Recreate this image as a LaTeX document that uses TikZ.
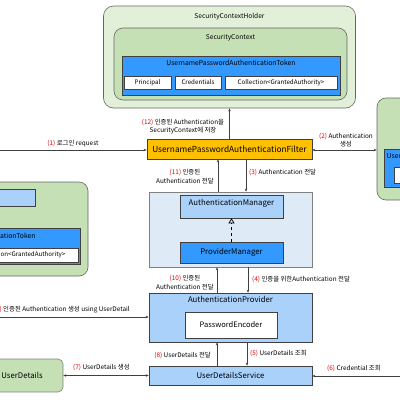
\documentclass[tikz,border=0pt]{standalone}
\usepackage{fontspec}
\setmainfont{Noto Sans CJK KR}
\usetikzlibrary{arrows.meta}
\definecolor{gOuter}{HTML}{E2F0D9}
\definecolor{gInner}{HTML}{C5E0B4}
\definecolor{bDark}{HTML}{3399FF}
\definecolor{bLight}{HTML}{A9D1FA}
\definecolor{bPale}{HTML}{DEEBF7}
\definecolor{fOrange}{HTML}{FFC000}
\definecolor{lineGray}{HTML}{404040}
\definecolor{numRed}{HTML}{E00000}
\tikzset{
  box/.style={draw=lineGray, line width=0.6pt, inner sep=0pt, anchor=center},
  greenbig/.style={box, fill=gOuter, rounded corners=10pt, draw=gray!80!black},
  greenin/.style={box, fill=gInner, rounded corners=9pt, draw=gray!80!black},
  bluebox/.style={box, fill=bDark},
  lightbox/.style={box, fill=bLight},
  whitebox/.style={box, fill=white, font=\fontsize{6.2}{7}\selectfont},
  arr/.style={draw=lineGray, line width=0.6pt, -{Stealth[length=3pt,width=2.5pt]}},
  darr/.style={draw=lineGray, line width=0.6pt, {Stealth[length=3pt,width=2.5pt]}-{Stealth[length=3pt,width=2.5pt]}},
  lbl/.style={font=\fontsize{6.4}{8.2}\selectfont, inner sep=0pt, align=center},
  ttl/.style={font=\fontsize{6.6}{8}\selectfont, inner sep=0pt}
}
\newcommand{\rn}[1]{\textcolor{numRed}{#1}}
\begin{document}
\begin{tikzpicture}[x=1pt,y=-1pt]
\useasboundingbox (0,0) rectangle (400,400);
% SecurityContextHolder
\node[greenbig, minimum width=252pt, minimum height=102pt] (holder) at (229.5,57) {};
\node[ttl] (holderT) at (229.5,17) {SecurityContextHolder};
\node[greenin, minimum width=233pt, minimum height=72pt] (sctx) at (230.5,64) {};
\node[ttl] (sctxT) at (230.5,38) {SecurityContext};
\node[bluebox, minimum width=218pt, minimum height=39pt] (token) at (231,75.5) {};
\node[ttl, font=\fontsize{6.8}{8}\selectfont] (tokenT) at (231,63) {UsernamePasswordAuthenticationToken};
\node[whitebox, minimum width=47pt, minimum height=13pt] (princ) at (147.5,82.5) {Principal};
\node[whitebox, minimum width=46pt, minimum height=13pt] (cred) at (198,82.5) {Credentials};
\node[whitebox, minimum width=112pt, minimum height=13pt] (coll) at (281,82.5) {Collection<GrantedAuthority>};

% right green box (cropped)
\node[greenin, minimum width=200pt, minimum height=102pt] (rbox) at (477,149) {};
\node[bluebox, minimum width=120pt, minimum height=38pt] (rtoken) at (444,168) {};
\node[ttl, font=\fontsize{6.8}{8}\selectfont, anchor=west] (rtokenT) at (386.5,156) {UsernamePasswordAuthenticationToken};
\node[whitebox, minimum width=60pt, minimum height=16pt] (rwhite) at (424,175) {};

% left green box (cropped)
\node[greenin, minimum width=280pt, minimum height=94pt] (lbox) at (-52,229) {};
\node[lightbox, minimum width=80pt, minimum height=17pt] (llight) at (-5,197.5) {};
\node[bluebox, minimum width=218pt, minimum height=36pt] (ltoken) at (-29,246) {};
\node[ttl, font=\fontsize{6.8}{8}\selectfont] (ltokenT) at (-29,236) {UsernamePasswordAuthenticationToken};
\node[whitebox, minimum width=112pt, minimum height=14pt] (lcoll) at (22,255) {Collection<GrantedAuthority>};

% Filter
\node[box, fill=fOrange, minimum width=165pt, minimum height=20pt, font=\fontsize{8.3}{10}\selectfont] (filter) at (229.5,149) {UsernamePasswordAuthenticationFilter};

% Manager group
\node[box, fill=bPale, draw=gray, minimum width=163pt, minimum height=75pt] (mgr) at (230.5,229.5) {};
\node[lightbox, minimum width=103pt, minimum height=23pt] (am) at (231.5,206.5) {};
\node[font=\fontsize{7.8}{9}\selectfont, inner sep=0pt] (amT) at (231.5,203.5) {AuthenticationManager};
\node[bluebox, minimum width=103pt, minimum height=21pt, font=\fontsize{7.8}{9}\selectfont] (pm) at (231.5,252.5) {ProviderManager};
\draw[line width=0.7pt, dashed, -{Triangle[open, length=5pt, width=6pt]}] (pm.north -| am.south) -- (am.south);

% Provider
\node[lightbox, minimum width=163pt, minimum height=49pt] (prov) at (230.5,317.5) {};
\node[font=\fontsize{7.8}{9}\selectfont, inner sep=0pt] (provT) at (230.5,299.5) {AuthenticationProvider};
\node[box, fill=white, minimum width=92pt, minimum height=26pt, font=\fontsize{7.5}{9}\selectfont] (pe) at (231,325) {PasswordEncoder};

% UserDetailsService
\node[lightbox, minimum width=163pt, minimum height=19pt, font=\fontsize{7.8}{9}\selectfont] (uds) at (230.5,375.5) {UserDetailsService};
\node[box, fill=gInner, draw=gray, rounded corners=5pt, minimum width=83pt, minimum height=33pt] (ud) at (21.5,375.5) {};
\node[font=\fontsize{7.8}{9}\selectfont, inner sep=0pt] (udT) at (22,375.5) {UserDetails};

% free ends
\coordinate (in1) at (-10,150);
\coordinate (in9) at (-10,317);
\coordinate (in6) at (410,376);

% connectors
\draw[arr] (in1) -- (in1 -| filter.west);
\draw[darr] (filter.east |- 0,150) -- (rbox.west |- 0,150);
\draw[arr] (filter.north) -- (holder.south);
\draw[arr] ([xshift=-12.5pt]mgr.north) -- ([xshift=-12.5pt]mgr.north |- filter.south);
\draw[arr] ([xshift=16.5pt]filter.south) -- ([xshift=16.5pt]filter.south |- mgr.north);
\draw[arr] ([xshift=-13.5pt]prov.north) -- ([xshift=-13.5pt]prov.north |- mgr.south);
\draw[arr] ([xshift=17.5pt]mgr.south) -- ([xshift=17.5pt]mgr.south |- prov.north);
\draw[arr] (in9) -- (in9 -| prov.west);
\draw[arr] ([xshift=-13.5pt]uds.north) -- ([xshift=-13.5pt]uds.north |- prov.south);
\draw[arr] ([xshift=16.5pt]prov.south) -- ([xshift=16.5pt]prov.south |- uds.north);
\draw[darr] (ud.east) -- (uds.west);
\draw[arr] (in6) -- (in6 -| uds.east);

% labels
\node[lbl] (l1) at (73,144) {\rn{(1)} 로그인 request};
\node[lbl] (l2) at (346,140.5) {\rn{(2)} Authentication\\생성};
\node[lbl] (l12) at (183,126.5) {\rn{(12)} 인증된 Authentication을\\SecurityContext에 저장};
\node[lbl] (l11) at (185,176.5) {\rn{(11)} 인증된\\Authentication 전달};
\node[lbl, anchor=west] (l3) at (249,172) {\rn{(3)} Authentication 전달};
\node[lbl] (l10) at (185,282.5) {\rn{(10)} 인증된\\Authentication 전달};
\node[lbl, anchor=west] (l4) at (252,279) {\rn{(4)} 인증을 위한Authentication 전달};
\node[lbl, anchor=east] (l9) at (130,310) {\rn{(9)} 인증된 Authentication 생성 using UserDetail};
\node[lbl, anchor=east] (l8) at (211,355) {\rn{(8)} UserDetails 전달};
\node[lbl, anchor=west] (l5) at (250,353) {\rn{(5)} UserDetails 조회};
\node[lbl, anchor=west] (l7) at (73,367) {\rn{(7)} UserDetails 생성};
\node[lbl, anchor=west] (l6) at (327,368) {\rn{(6)} Credential 조회};
\end{tikzpicture}
\end{document}
